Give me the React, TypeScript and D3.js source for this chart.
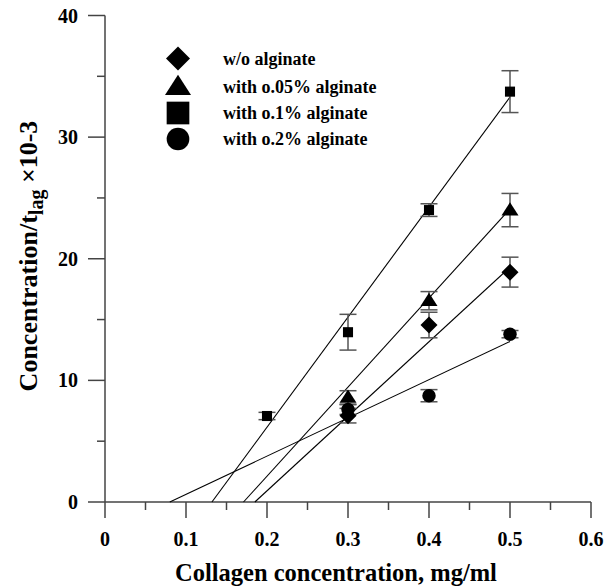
import React from "react";
import * as d3 from "d3";

// series
const seriesNames = ["w/o alginate", "with o.05% alginate", "with o.1% alginate", "with o.2% alginate"];
const seriesShapes = ["diamond", "triangle", "square", "circle"];

const diamondX = [0.3, 0.4, 0.5];
const diamondY = [7.1, 14.55, 18.9];
const diamondErr = [0.6, 1.05, 1.23];

const triangleX = [0.3, 0.4, 0.5];
const triangleY = [8.6, 16.55, 24.0];
const triangleErr = [0.55, 0.75, 1.37];

const squareX = [0.2, 0.3, 0.4, 0.5];
const squareY = [7.07, 13.96, 24.0, 33.74];
const squareErr = [0.3, 1.47, 0.52, 1.72];

const circleX = [0.3, 0.4, 0.5];
const circleY = [7.6, 8.74, 13.8];
const circleErr = [0.4, 0.5, 0.3];

// fitted lines: x where y = 0, and value at x = 0.5
const fitStartX = [0.185, 0.171, 0.132, 0.08];
const fitEndX = 0.5;
const fitEndY = [19.3, 24.1, 33.3, 13.2];

const xTicks = [0, 0.1, 0.2, 0.3, 0.4, 0.5, 0.6];
const yTicks = [0, 10, 20, 30, 40];

const seriesX = [diamondX, triangleX, squareX, circleX];
const seriesY = [diamondY, triangleY, squareY, circleY];
const seriesErr = [diamondErr, triangleErr, squareErr, circleErr];

const font = "'Liberation Serif', 'Times New Roman', serif";
const axisColor = "#444";

function marker(shape: string, cx: number, cy: number, s: number) {
  // s = overall size in px
  const h = s / 2;
  if (shape === "diamond") {
    return <path d={`M${cx},${cy - h}L${cx + h},${cy}L${cx},${cy + h}L${cx - h},${cy}Z`} fill="#000" />;
  }
  if (shape === "triangle") {
    const th = s * 0.78;
    return <path d={`M${cx},${cy - th * 0.6}L${cx + h},${cy + th * 0.4}L${cx - h},${cy + th * 0.4}Z`} fill="#000" />;
  }
  if (shape === "square") {
    const q = s * 0.42;
    return <rect x={cx - q} y={cy - q} width={q * 2} height={q * 2} fill="#000" />;
  }
  return <circle cx={cx} cy={cy} r={s * 0.42} fill="#000" />;
}

export default function App() {
  const x = d3.scaleLinear().domain([0, 0.6]).range([105, 591]);
  const y = d3.scaleLinear().domain([0, 40]).range([502, 15.5]);

  const xMinor = d3.range(0.05, 0.6, 0.1);
  const yMinor = d3.range(5, 40, 10);

  const line = d3
    .line<[number, number]>()
    .x((d) => x(d[0]))
    .y((d) => y(d[1]));

  const plotSizes = [17, 17, 12, 16];
  const legendSizes = [24, 26, 27, 27];
  const legendRows = [64.5, 93, 119, 145];

  return (
    <svg width={608} height={587} style={{ position: "absolute", left: 0, top: 0, background: "#fff" }}>
      {/* axes */}
      <line x1={x(0)} x2={x(0.6)} y1={y(0)} y2={y(0)} stroke={axisColor} strokeWidth={1.5} />
      <line x1={x(0)} x2={x(0)} y1={y(0)} y2={y(40)} stroke={axisColor} strokeWidth={1.5} />
      {xTicks.map((t) => (
        <g key={"xt" + t}>
          <line x1={x(t)} x2={x(t)} y1={y(0)} y2={y(0) + 16} stroke={axisColor} strokeWidth={1.5} />
          <text x={x(t)} y={546} textAnchor="middle" fontFamily={font} fontWeight="bold" fontSize={20}>
            {t === 0 ? "0" : t.toFixed(1)}
          </text>
        </g>
      ))}
      {xMinor.map((t) => (
        <line key={"xm" + t} x1={x(t)} x2={x(t)} y1={y(0)} y2={y(0) + 8} stroke={axisColor} strokeWidth={1.5} />
      ))}
      {yTicks.map((t) => (
        <g key={"yt" + t}>
          <line x1={x(0) - 17} x2={x(0)} y1={y(t)} y2={y(t)} stroke={axisColor} strokeWidth={1.5} />
          <text x={78} y={y(t) + 7} textAnchor="end" fontFamily={font} fontWeight="bold" fontSize={20}>
            {t}
          </text>
        </g>
      ))}
      {yMinor.map((t) => (
        <line key={"ym" + t} x1={x(0) - 8} x2={x(0)} y1={y(t)} y2={y(t)} stroke={axisColor} strokeWidth={1.5} />
      ))}

      {/* fitted lines */}
      {fitStartX.map((x0, i) => (
        <path
          key={"fit" + i}
          d={line([
            [x0, 0],
            [fitEndX, fitEndY[i]],
          ]) as string}
          fill="none"
          stroke="#000"
          strokeWidth={1.1}
        />
      ))}

      {/* error bars */}
      {seriesX.map((xs, i) =>
        xs.map((xv, j) => {
          const cx = x(xv);
          const top = y(seriesY[i][j] + seriesErr[i][j]);
          const bot = y(seriesY[i][j] - seriesErr[i][j]);
          return (
            <g key={`e${i}-${j}`} stroke="#555" strokeWidth={1.5}>
              <line x1={cx} x2={cx} y1={top} y2={bot} />
              <line x1={cx - 8.5} x2={cx + 8.5} y1={top} y2={top} />
              <line x1={cx - 8.5} x2={cx + 8.5} y1={bot} y2={bot} />
            </g>
          );
        })
      )}

      {/* markers */}
      {seriesX.map((xs, i) =>
        xs.map((xv, j) => (
          <g key={`m${i}-${j}`}>{marker(seriesShapes[i], x(xv), y(seriesY[i][j]), plotSizes[i])}</g>
        ))
      )}

      {/* legend */}
      {seriesNames.map((name, i) => (
        <g key={"lg" + i}>
          {marker(seriesShapes[i], 178, legendRows[i] - 6, legendSizes[i])}
          <text x={223} y={legendRows[i]} fontFamily={font} fontWeight="bold" fontSize={18}>
            {name}
          </text>
        </g>
      ))}

      {/* axis titles */}
      <text x={336} y={581} textAnchor="middle" fontFamily={font} fontWeight="bold" fontSize={24.5}>
        Collagen concentration, mg/ml
      </text>
      <text
        transform="translate(37,256) rotate(-90)"
        textAnchor="middle"
        fontFamily={font}
        fontWeight="bold"
        fontSize={26}
      >
        Concentration/t
        <tspan fontSize={20} dy={6}>lag</tspan>
        <tspan dy={-6}> ×10-3</tspan>
      </text>
    </svg>
  );
}
